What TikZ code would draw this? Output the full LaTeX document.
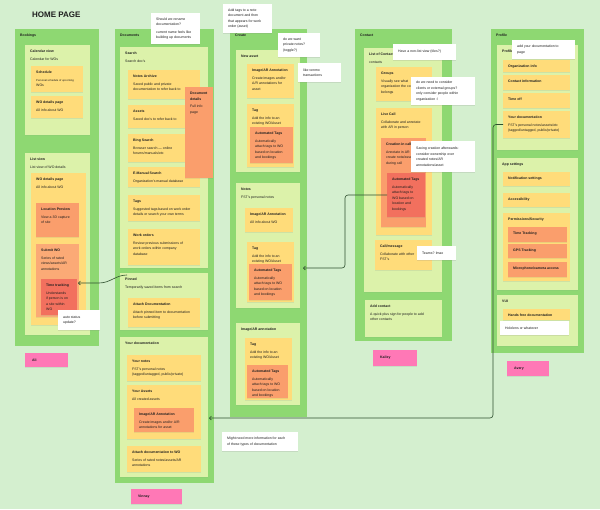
\documentclass[tikz,border=0pt]{standalone}
\usepackage{fontspec}
\setmainfont{Liberation Sans}
\usetikzlibrary{calc,arrows.meta,shadows}
\definecolor{board}{HTML}{D4EFCF}
\definecolor{lane}{HTML}{8ED872}
\definecolor{shelf}{HTML}{DCF2AA}
\definecolor{sticky}{HTML}{FFDC7A}
\definecolor{peach}{HTML}{FA9E6C}
\definecolor{peachlt}{HTML}{FBAA76}
\definecolor{hot}{HTML}{F2705E}
\definecolor{bubble}{HTML}{FF78B6}
\definecolor{ink}{HTML}{1E1E1E}
\definecolor{wire}{HTML}{2E4F2E}
\tikzset{
  box/.style={rectangle, inner sep=0pt, outer sep=0pt, anchor=north west},
  col/.style={box, fill=lane},
  pale/.style={box, fill=shelf, drop shadow={opacity=0.08, shadow xshift=0.3pt, shadow yshift=-0.6pt}},
  yel/.style={box, fill=sticky, drop shadow={opacity=0.15, shadow xshift=0.3pt, shadow yshift=-0.8pt}},
  ora/.style={box, fill=peach, drop shadow={opacity=0.15, shadow xshift=0.3pt, shadow yshift=-0.8pt}},
  oralt/.style={ora, fill=peachlt},
  hotbox/.style={box, fill=hot, drop shadow={opacity=0.15, shadow xshift=0.3pt, shadow yshift=-0.8pt}},
  pnk/.style={box, fill=bubble, drop shadow={opacity=0.15, shadow xshift=0.3pt, shadow yshift=-0.8pt}},
  note/.style={box, fill=white, drop shadow={opacity=0.18, shadow xshift=0.4pt, shadow yshift=-1pt}},
  txt/.style={anchor=north west, inner sep=0pt, align=left, text=ink, font=\fontsize{3.5}{5.5}\selectfont},
  link/.style={draw=wire, line width=0.6pt, -{Straight Barb[length=2pt,width=4pt]}},
}
% box with its text in the top left corner
\def\card[#1](#2,#3)(#4,#5)#6#7{%
  \node[#1, minimum width={#4-#2}, minimum height={#5-#3}] (#6) at (#2,#3) {};
  \node[txt] (#6-t) at ($(#6.north west)+(5,5)$) {#7};}
% white note, text centred on its height
\def\memo(#1,#2)(#3,#4)#5#6{%
  \node[note, minimum width={#3-#1}, minimum height={#4-#2}] (#5) at (#1,#2) {};
  \node[txt, anchor=west] (#5-t) at ($(#5.west)+(5,0)$) {#6};}
% pink name tag
\def\badge(#1,#2)(#3,#4)#5#6{%
  \node[pnk, minimum width={#3-#1}, minimum height={#4-#2}] (#5) at (#1,#2) {};
  \node[txt, anchor=west] (#5-t) at ($(#5.west)+(7,0)$) {\textbf{#6}};}

\begin{document}
\begin{tikzpicture}[x=1pt, y=-1pt]
	%%%%% START %%%%%
	\fill[board] (0,0) rectangle (600,509);
	\useasboundingbox (0,0) rectangle (600,509);
	
	\node[anchor=west, inner sep=0pt, text=ink, font=\fontsize{8}{9}\selectfont\bfseries] (title) at (32,15) {HOME PAGE};
	
	% lanes
	\card[col](15,29)(99,346){bk}{\textbf{Bookings}}
	\card[col](115,29)(214,483){dc}{\textbf{Documents}}
	\card[col](230,29)(307,417){cr}{\textbf{Create}}
	\card[col](355,29)(452,341){ct}{\textbf{Contact}}
	\card[col](491,29)(584,353){pf}{\textbf{Profile}}
	
	% bookings
	\card[pale](25,45)(90,135){cal}{\textbf{Calendar view}\\[2pt]Calendar for WOs}
	\card[yel](31,66)(83,92){sch}{\textbf{Schedule}\\[2pt]\fontsize{2.7}{5}\selectfont Personal schedule of upcoming\\WOs}
	\card[yel](31,96)(83,118){wdp}{\textbf{WO details page}\\[2pt]All info about WO}
	\card[pale](25,153)(90,335){lv}{\textbf{List view}\\[2pt]List view of WO details}
	\card[yel](31,173)(86,325){wod}{\textbf{WO details page}\\[2pt]All info about WO}
	\card[ora](36,203)(79,237){lp}{\textbf{Location Preview}\\[2pt]View a 3D capture\\of site}
	\card[oralt](36,244)(79,317){sub}{\textbf{Submit WO}\\[2pt]Series of rated\\views/assets/AR\\annotations}
	\card[hotbox](41,279)(77,315){tt}{\textbf{Time tracking}\\[2pt]Understands\\if person is on\\a site within\\WO}
	
	% documents
	\card[pale](120,47)(208,268){srch}{\textbf{Search}\\[2pt]Search doc's}
	\card[yel](128,70)(200,99){arch}{\textbf{Notes Archive}\\[2pt]Saved public and private\\documentation to refer back to}
	\card[yel](128,105)(200,128){ast}{\textbf{Assets}\\[2pt]Saved doc's to refer back to}
	\card[yel](128,134)(200,162){bing}{\textbf{Bing Search}\\[2pt]Browser search --- online\\forums/manuals/etc}
	\card[yel](128,167)(200,187){eman}{\textbf{E-Manual Search}\\[2pt]Organization's manual database}
	\card[yel](128,195)(200,221){tags}{\textbf{Tags}\\[2pt]Suggested tags based on work order\\details or search your own terms}
	\card[yel](128,229)(200,265){wo}{\textbf{Work orders}\\[2pt]Review previous submissions of\\work orders within company\\database}
	\card[ora](185,87)(213,178){dd}{\textbf{Document}\\\textbf{details}\\[2pt]Full info\\page}
	\card[pale](120,273)(208,330){pin}{\textbf{Pinned}\\[2pt]Temporarily saved items from search}
	\card[yel](128,298)(200,327){att}{\textbf{Attach Documentation}\\[2pt]Attach pinned item to documentation\\before submitting}
	\card[pale](120,337)(208,477){ydoc}{\textbf{Your documentation}}
	\card[yel](127,355)(201,381){yn}{\textbf{Your notes}\\[2pt]FST's personal notes\\(tagged/untagged, public/private)}
	\card[yel](127,385)(201,439){ya}{\textbf{Your Assets}\\[2pt]All created assets}
	\card[ora](134,408)(194,432){yiar}{\textbf{Image/AR Annotation}\\[2pt]Create images and/or A/R\\annotations for asset}
	\card[yel](127,446)(201,472){awo}{\textbf{Attach documentation to WO}\\[2pt]Series of rated notes/assets/AR\\annotations}
	
	% create
	\card[pale](236,50)(300,172){nas}{\textbf{New asset}}
	\card[yel](247,64)(294,98){cia}{\textbf{Image/AR Annotation}\\[2pt]Create images and/or\\A/R annotations for\\asset}
	\card[yel](247,104)(294,167){ctg}{\textbf{Tag}\\[2pt]Add the info to an\\existing WO/Asset}
	\card[ora](250,127)(293,163){cat}{\textbf{Automated Tags}\\[2pt]Automatically\\attach tags to WO\\based on location\\and bookings}
	\card[pale](236,183)(300,308){nts}{\textbf{Notes}\\[2pt]FST's personal notes}
	\card[yel](245,208)(293,232){nia}{\textbf{Image/AR Annotation}\\[2pt]All info about WO}
	\card[yel](247,242)(294,302){ntg}{\textbf{Tag}\\[2pt]Add the info to an\\existing WO/Asset}
	\card[ora](249,264)(292,300){nat}{\textbf{Automated Tags}\\[2pt]Automatically\\attach tags to WO\\based on location\\and bookings}
	\card[pale](236,323)(300,405){ian}{\textbf{Image/AR annotation}}
	\card[yel](245,338)(292,400){itg}{\textbf{Tag}\\[2pt]Add the info to an\\existing WO/Asset}
	\card[ora](247,365)(288,398){iat}{\textbf{Automated Tags}\\[2pt]Automatically\\attach tags to WO\\based on location\\and bookings}
	
	% contact
	\card[pale](364,48)(442,292){loc}{\textbf{List of Contacts}\\[2pt]contacts}
	\card[yel](376,67)(432,101){grp}{\textbf{Groups}\\[2pt]Visually see what\\organization the contact\\belongs}
	\card[yel](376,108)(432,235){lcl}{\textbf{Live Call}\\[2pt]Collaborate and annotate\\with AR in person}
	\card[ora](381,138)(426,227){cic}{\textbf{Creation in call}\\[2pt]Annotate in AR\\create note/asset\\during call}
	\card[hotbox](387,173)(425,217){ctag}{\textbf{Automated Tags}\\[2pt]Automatically\\attach tags to\\WO based on\\location and\\bookings}
	\card[yel](375,240)(432,270){cm}{\textbf{Call/message}\\[2pt]Collaborate with other\\FST's}
	\card[pale](365,300)(442,337){adc}{\textbf{Add contact}\\[2pt]A quick plus sign for people to add\\other contacts}
	
	% profile
	\card[pale](497,45)(578,150){prf}{\textbf{Profile}}
	\card[yel](503,60)(570,72){org}{\textbf{Organization info}}
	\card[yel](503,75)(570,90){cinf}{\textbf{Contact information}}
	\card[yel](503,93)(570,108){toff}{\textbf{Time off}}
	\card[yel](503,111)(570,138){pdoc}{\textbf{Your documentation}\\[2pt]FST's personal notes/assets/etc\\(tagged/untagged, public/private)}
	\card[pale](497,158)(578,290){aps}{\textbf{App settings}}
	\card[yel](503,172)(570,186){nots}{\textbf{Notification settings}}
	\card[yel](503,193)(570,207){acc}{\textbf{Accessibility}}
	\card[yel](503,213)(570,281){perm}{\textbf{Permissions/Security}}
	\card[ora](508,227)(567,242){ttr}{\textbf{Time Tracking}}
	\card[ora](508,244)(567,258){gps}{\textbf{GPS Tracking}}
	\card[ora](508,262)(567,277){mic}{\textbf{Microphone/camera access}}
	\card[pale](497,295)(578,346){vui}{\textbf{VUI}}
	\card[yel](503,309)(570,320){hfd}{\textbf{Hands free documentation}}
	
	% names
	\badge(25,353)(68,367){ali}{Ali}
	\badge(131,489)(182,504){vin}{Vinnay}
	\badge(373,350)(417,366){kai}{Kailey}
	\badge(507,361)(549,376){avy}{Avery}
	
	% connectors
	\draw[link] ($(pin.north west)+(7,2)$) to[out=180, in=0] ($(tt.north east)+(22,4)$) -- ($(tt.north east)+(1,4)$);
	\draw[link, rounded corners=3] (ctag.west) -- ++(-42,0) |- ($(cr.east)+(-4,45)$);
	\draw[link, rounded corners=3] (pdoc.west) -- ++(-10,0) |- ($(ydoc.east)+(1,11)$);
	
	% comments
	\memo(151,13)(200,44){n1}{Should we rename\\documentation?\\[2pt]current name feels like\\building up documents}
	\memo(223,4)(272,33){n2}{Add tags to a note\\document and then\\that appears for work\\order (asset)}
	\memo(278,33)(320,57){n3}{do we want\\private notes?\\(toggle?)}
	\memo(298,63)(341,82){n4}{like venmo\\transactions}
	\memo(393,44)(456,60){n5}{Have a non-list view (tiles?)}
	\memo(411,77)(475,105){n6}{do we need to consider\\clients or external groups?\\only consider people within\\organization :/}
	\memo(411,141)(475,172){n7}{Saving creation afterwards:\\consider ownership over\\created notes/AR\\annotations/asset}
	\memo(417,246)(456,260){n8}{Teams? lmao}
	\memo(512,40)(575,59){n9}{add your documentation to\\page}
	\memo(500,321)(569,335){n10}{Hololens or whatever}
	\memo(58,310)(100,330){n11}{auto status\\update?}
	\memo(222,432)(298,451){n12}{Might need more information for each\\of these types of documentation}
	%%%%% END %%%%%
\end{tikzpicture}
\end{document}
